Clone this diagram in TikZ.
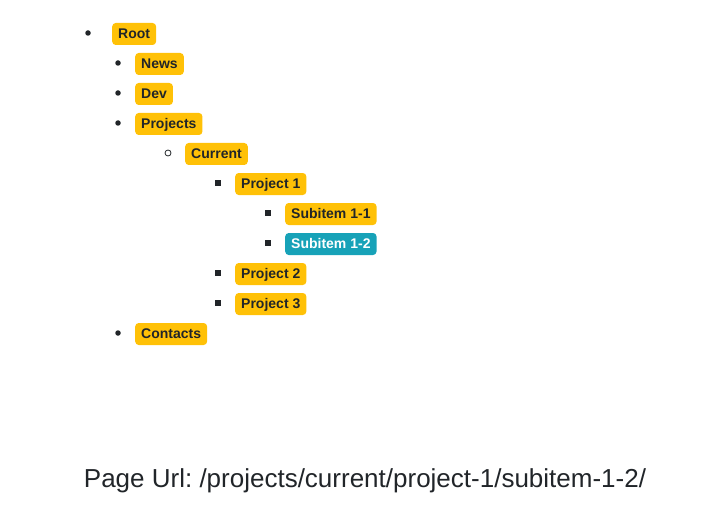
\documentclass[tikz,border=0pt]{standalone}
\usepackage{fontspec}
\setmainfont{Liberation Sans}
\frenchspacing
\definecolor{badgeyellow}{HTML}{FFC107}
\definecolor{badgeteal}{HTML}{17A2B8}
\definecolor{inkdark}{HTML}{212529}
\tikzset{
  badge/.style={fill=badgeyellow,text=inkdark,rounded corners=3.5pt,
    inner xsep=6pt,inner ysep=0pt,text height=10.5pt,text depth=1pt,
    minimum height=22pt,anchor=west,
    font=\fontsize{14}{16}\selectfont\bfseries},
  badgeactive/.style={badge,fill=badgeteal,text=white},
  dotbullet/.style={circle,fill=inkdark,inner sep=0pt,minimum size=5.5pt},
  ringbullet/.style={circle,draw=inkdark,line width=0.8pt,fill=white,
    inner sep=0pt,minimum size=6pt},
  squarebullet/.style={rectangle,fill=inkdark,inner sep=0pt,minimum size=6pt}
}
\begin{document}
\begin{tikzpicture}[x=1pt,y=-1pt]
  \useasboundingbox (0,0) rectangle (719,513);
  \node[dotbullet] (b-root) at (88,33) {};
  \node[badge] (root) at (112,34) {Root};
  \node[dotbullet] (b-news) at (118,63) {};
  \node[badge] (news) at (135,64) {News};
  \node[dotbullet] (b-dev) at (118,93) {};
  \node[badge] (dev) at (135,94) {Dev};
  \node[dotbullet] (b-projects) at (118,123) {};
  \node[badge] (projects) at (135,124) {Projects};
  \node[ringbullet] (b-current) at (168,153) {};
  \node[badge] (current) at (185,154) {Current};
  \node[squarebullet] (b-project1) at (218,183) {};
  \node[badge] (project1) at (235,184) {Project 1};
  \node[squarebullet] (b-sub11) at (268,213) {};
  \node[badge] (sub11) at (285,214) {Subitem 1-1};
  \node[squarebullet] (b-sub12) at (268,243) {};
  \node[badgeactive] (sub12) at (285,244) {Subitem 1-2};
  \node[squarebullet] (b-project2) at (218,273) {};
  \node[badge] (project2) at (235,274) {Project 2};
  \node[squarebullet] (b-project3) at (218,303) {};
  \node[badge] (project3) at (235,304) {Project 3};
  \node[dotbullet] (b-contacts) at (118,333) {};
  \node[badge] (contacts) at (135,334) {Contacts};
  \node[text=inkdark,font=\fontsize{26}{28}\selectfont] (url) at (365,481)
    {Page Url: /projects/current/project-1/subitem-1-2/};
\end{tikzpicture}
\end{document}
